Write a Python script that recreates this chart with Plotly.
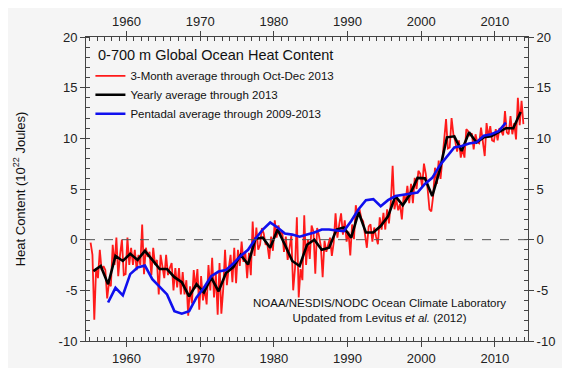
import plotly.graph_objects as go

# ---------------- data ----------------
years = list(range(1955, 2014))

# 3-month (quarterly) averages, four per year, 1955-2013
quarterly = [
    [-0.3, -1.5, -7.9, -2.8],    # 1955
    [-3.8, -1.0, -3.0, -2.6],    # 1956
    [-3.0, -5.8, -4.2, -4.6],    # 1957
    [-0.5, -2.5, 0.2, -3.6],     # 1958
    [-1.5, 0.0, -3.5, -3.4],     # 1959
    [0.2, -2.5, -0.8, -2.5],     # 1960
    [-1.0, -3.0, -1.5, -2.5],    # 1961
    [1.5, -3.4, -0.8, -1.7],     # 1962
    [-1.2, -3.5, -0.8, -2.5],    # 1963
    [-2.0, -5.4, -1.5, -2.7],    # 1964
    [-3.8, -1.5, -3.5, -2.8],    # 1965
    [-2.3, -5.0, -2.8, -4.7],    # 1966
    [-2.8, -5.4, -3.2, -5.4],    # 1967
    [-4.0, -7.5, -4.6, -6.3],    # 1968
    [-3.0, -4.8, -2.9, -6.9],    # 1969
    [-3.6, -6.0, -4.8, -6.4],    # 1970
    [-2.5, -5.0, -1.8, -5.7],    # 1971
    [-3.4, -7.4, -2.3, -7.3],    # 1972
    [-4.9, -1.0, -4.5, -2.8],    # 1973
    [-1.5, -4.2, -0.8, -4.3],    # 1974
    [-1.0, -2.6, -0.2, -2.2],    # 1975
    [-1.2, -3.8, -1.3, -3.5],    # 1976
    [1.8, -1.6, 1.2, -1.0],      # 1977
    [-0.5, 1.15, 0.6, -0.45],    # 1978
    [-0.5, -1.9, 0.3, -1.1],     # 1979
    [1.9, 0.2, 1.4, 0.5],        # 1980
    [0.9, -1.2, 0.3, -2.0],      # 1981
    [-1.0, 0.4, -5.0, -2.8],     # 1982
    [2.2, -5.7, -2.9, -4.0],     # 1983
    [2.4, -2.5, 0.0, -1.9],      # 1984
    [1.4, 0.8, -3.35, 1.15],     # 1985
    [0.4, -0.6, -3.7, -0.1],     # 1986
    [-1.2, -0.6, 0.2, -1.6],     # 1987
    [-0.3, 2.6, 0.2, 1.5],       # 1988
    [2.6, 0.5, 1.9, -0.2],       # 1989
    [0.8, -1.55, 1.5, 0.05],     # 1990
    [3.4, 2.3, 3.0, 2.1],        # 1991
    [1.8, 0.5, -0.8, 1.3],       # 1992
    [1.5, -0.2, 1.2, 0.3],       # 1993
    [-0.45, 2.2, 1.0, 2.65],     # 1994
    [1.0, 3.0, 1.6, 3.6],        # 1995
    [7.3, 3.0, 4.0, 2.9],        # 1996
    [3.5, 2.0, 4.4, 3.7],        # 1997
    [5.3, 3.6, 5.5, 3.6],        # 1998
    [6.1, 5.0, 6.8, 6.5],        # 1999
    [5.2, 7.5, 6.5, 5.0],        # 2000
    [3.0, 2.8, 4.3, 7.1],        # 2001
    [5.5, 7.8, 6.0, 7.9],        # 2002
    [10.4, 11.9, 9.0, 9.1],      # 2003
    [12.0, 10.4, 9.7, 8.7],      # 2004
    [9.8, 8.1, 9.0, 8.1],        # 2005
    [10.9, 10.7, 10.3, 10.5],    # 2006
    [8.9, 10.4, 9.6, 9.5],       # 2007
    [11.05, 9.6, 8.25, 11.5],    # 2008
    [10.1, 11.2, 9.8, 9.7],      # 2009
    [10.9, 9.8, 11.0, 10.7],     # 2010
    [10.3, 12.7, 10.6, 10.4],    # 2011
    [12.2, 10.4, 11.5, 9.9],     # 2012
    [14.0, 11.3, 13.7, 11.4],    # 2013
]

yearly = [
    -3.1, -2.6, -4.4, -1.6, -2.1, -1.4, -2.0, -1.1, -2.0, -2.9,   # 1955-1964
    -2.9, -3.7, -4.2, -5.6, -4.4, -5.2, -3.75, -5.1, -3.3, -2.7,  # 1965-1974
    -1.5, -2.45, 0.1, 0.2, -0.8, 1.0, -0.5, -2.1, -2.6, -0.5,     # 1975-1984
    0.0, -1.0, -0.8, 1.0, 1.2, 0.2, 2.7, 0.7, 0.7, 1.35,          # 1985-1994
    2.3, 4.3, 3.4, 4.5, 6.1, 6.05, 4.3, 6.8, 10.1, 10.2,          # 1995-2004
    8.75, 10.6, 9.6, 10.1, 10.2, 10.6, 11.0, 11.0, 12.6,          # 2005-2013
]

pentad_years = list(range(1957, 2012))
pentadal = [
    -6.2, -4.75, -5.5, -3.4, -2.75, -2.55, -3.9, -4.6, -5.4, -7.05,  # 1957-1966
    -7.3, -7.05, -5.7, -4.75, -3.6, -3.15, -3.0, -2.35, -1.6, -1.0,  # 1967-1976
    0.1, 1.0, 1.7, 1.2, 0.6, 0.5, 0.3, 0.5, 0.7, 1.0,                # 1977-1986
    1.0, 0.9, 0.85, 1.85, 3.0, 3.9, 4.0, 3.3, 3.9, 4.3,              # 1987-1996
    4.4, 4.55, 4.65, 5.5, 6.1, 7.3, 8.25, 9.1, 9.25, 9.5,            # 1997-2006
    9.6, 10.25, 10.4, 10.7, 11.55,                                    # 2007-2011
]

x_ticks = [1960, 1970, 1980, 1990, 2000, 2010]
y_ticks = [-10, -5, 0, 5, 10, 15, 20]

# ---------------- derived series ----------------
q_x = [y + (q + 0.5) / 4 for y in years for q in range(4)]
q_y = [v for row in quarterly for v in row]
yr_x = [y + 0.5 for y in years]
pt_x = [y + 0.5 for y in pentad_years]

FONT = "Liberation Sans, Arial, Helvetica, sans-serif"
BG = "#f5f5f5"
AX = "#444444"

fig = go.Figure()
fig.add_trace(go.Scatter(x=q_x, y=q_y, mode="lines", name="3-Month average through Oct-Dec 2013",
                         line=dict(color="#ff1a1a", width=1.8)))
fig.add_trace(go.Scatter(x=yr_x, y=yearly, mode="lines", name="Yearly average through 2013",
                         line=dict(color="#000000", width=2.6)))
fig.add_trace(go.Scatter(x=pt_x, y=pentadal, mode="lines", name="Pentadal average through 2009-2013",
                         line=dict(color="#1010ee", width=2.6)))

xr = [1954.5, 2014.5]
yr = [-10, 20]

common_x = dict(range=xr, tickvals=x_ticks, ticktext=[str(t) for t in x_ticks],
                showgrid=False, zeroline=False, showline=True, linecolor=AX, linewidth=1,
                ticks="outside", ticklen=5, tickcolor=AX, tickwidth=1, automargin=False,
                minor=dict(ticks="inside", ticklen=4, dtick=1, tick0=1950, tickcolor=AX, showgrid=False),
                tickfont=dict(size=13, color="#222222", family=FONT))
common_y = dict(range=yr, tickvals=y_ticks, ticktext=[str(t) for t in y_ticks],
                showgrid=False, zeroline=False, showline=True, linecolor=AX, linewidth=1,
                ticks="outside", ticklen=5, tickcolor=AX, tickwidth=1, automargin=False,
                minor=dict(ticks="inside", ticklen=4, dtick=1, tick0=0, tickcolor=AX, showgrid=False),
                tickfont=dict(size=13, color="#222222", family=FONT))

fig.update_layout(
    width=570, height=368,
    margin=dict(l=78, r=50, t=29, b=35),
    paper_bgcolor=BG, plot_bgcolor=BG,
    font=dict(family=FONT, size=12, color="#111111"),
    showlegend=True,
    legend=dict(x=0.01, y=0.92, xanchor="left", yanchor="top",
                bgcolor="rgba(0,0,0,0)", font=dict(size=11.5, family=FONT, color="#111111"),
                tracegroupgap=0),
    xaxis=dict(**common_x, side="bottom", anchor="y"),
    yaxis=dict(**common_y, side="left", anchor="x",
               title=dict(text="Heat Content (10<sup>22</sup> Joules)",
                          font=dict(size=13, family=FONT, color="#111111"), standoff=30)),
    xaxis2=dict(**common_x, side="top", overlaying="x", anchor="y", matches="x"),
    yaxis2=dict(**common_y, side="right", overlaying="y", anchor="x", matches="y"),
)

# invisible trace so the secondary axes are drawn
fig.add_trace(go.Scatter(x=[xr[0]], y=[yr[0]], xaxis="x2", yaxis="y2", mode="markers",
                         marker=dict(opacity=0), showlegend=False, hoverinfo="skip"))

fig.add_hline(y=0, line=dict(color="#555555", width=1, dash="dash"))

fig.add_annotation(text="0-700 m Global Ocean Heat Content", xref="paper", yref="paper",
                   x=0.022, y=0.94, xanchor="left", yanchor="middle", showarrow=False,
                   font=dict(size=14.5, family=FONT, color="#111111"))
fig.add_annotation(text="NOAA/NESDIS/NODC Ocean Climate Laboratory<br>Updated from Levitus <i>et al.</i> (2012)",
                   xref="paper", yref="paper", x=0.665, y=0.10, xanchor="center", yanchor="middle",
                   align="center", showarrow=False,
                   font=dict(size=11.5, family=FONT, color="#111111"))

fig.write_html("out.html")
